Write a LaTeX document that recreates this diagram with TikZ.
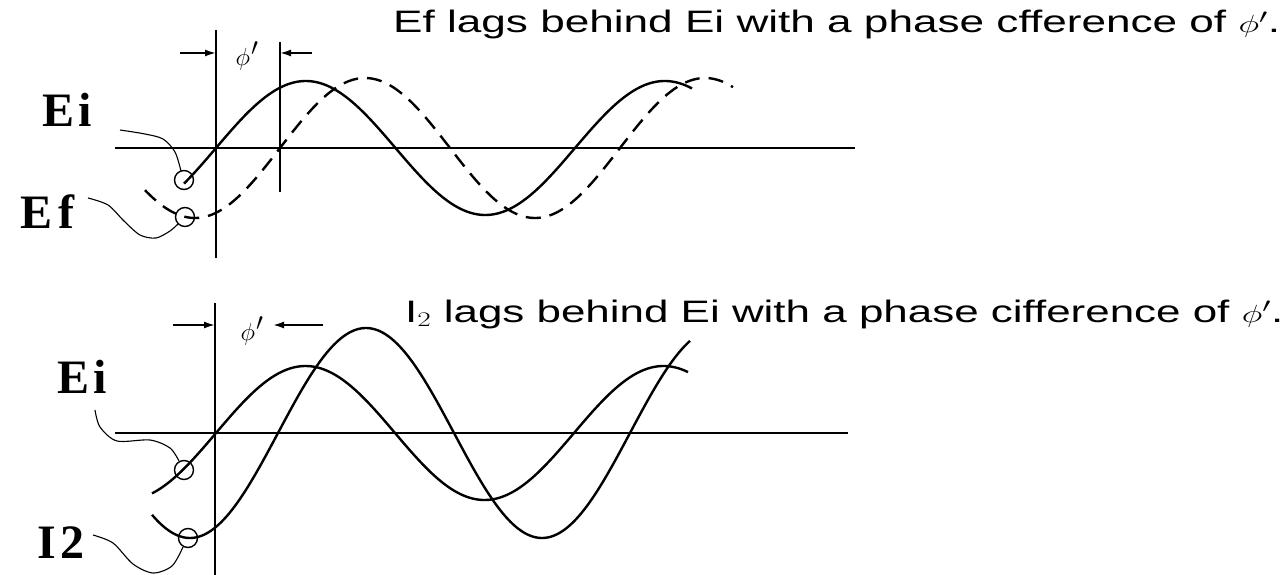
\documentclass[tikz,border=0pt]{standalone}
\usepackage{fontspec}
\usepackage{graphicx}
\setmainfont{Liberation Serif}
\newfontfamily\capsans{Liberation Sans}
\usetikzlibrary{arrows.meta}
\begin{document}
\begin{tikzpicture}[x=1pt,y=-1pt,
  axis/.style={line width=2.6pt},
  wave/.style={line width=2.4pt},
  lead/.style={line width=1.1pt},
  dim/.style={line width=1.8pt,-{Latex[length=11pt,width=7pt]}},
  ring/.style={draw,circle,line width=1.4pt,minimum size=19pt,inner sep=0pt},
  lbl/.style={anchor=base west,inner sep=0pt,font=\fontsize{48}{50}\selectfont\bfseries},
  phil/.style={inner sep=0pt,font=\fontsize{34}{36}\selectfont},
  sent/.style={anchor=base west,inner sep=0pt}]
\useasboundingbox (0,0) rectangle (1288,575);

% ---------- top panel ----------
\draw[axis] (115,148) -- (855,148);
\draw[axis] (216,30) -- (216,258);
\draw[line width=1.6pt] (280,42) -- (280,192);
\draw[wave] plot[domain=184:692,samples=220] (\x,{148-67*sin((\x-216)/359*360)});
\draw[wave,dash pattern=on 15pt off 9pt] plot[domain=145:733,samples=220] (\x,{148-70*sin((\x-280)/340*360)});
\node[ring] (c1) at (184,180) {};
\node[ring] (c2) at (185,217) {};
\coordinate (d1a) at (180,53);
\coordinate (d1b) at (216,53);
\coordinate (d2a) at (312,53);
\coordinate (d2b) at (280,53);
\draw[dim] (d1a) -- (d1b);
\draw[dim] (d2a) -- (d2b);
\node[phil] (p1) at (247,56) {$\phi\kern1pt'$};
\node[lbl] (ei1) at (42,127) {E\kern4pt i};
\node[lbl] (ef1) at (20,228) {E\kern6pt f};
\draw[lead] plot[smooth] coordinates {(120,130) (145,134) (163,139) (175,152) (181,171)};
\draw[lead] plot[smooth] coordinates {(88,198) (108,205) (124,221) (140,235) (156,238) (170,231) (178,224)};
\node[sent] (s1) at (393,33) {\resizebox{887pt}{\height}{\capsans\fontsize{31}{34}\selectfont Ef lags behind Ei with a phase cfference of $\phi'$.}};

% ---------- bottom panel ----------
\draw[axis] (115,433) -- (848,433);
\draw[axis] (215,303) -- (215,575);
\draw[wave] plot[domain=152:688,samples=220] (\x,{433-67*sin((\x-216)/358*360)});
\draw[wave] plot[domain=152:690,samples=220] (\x,{433-105*sin((\x-278)/352*360)});
\node[ring] (c3) at (184,470) {};
\node[ring] (c4) at (188,538) {};
\coordinate (d3a) at (173,325);
\coordinate (d3b) at (215,325);
\coordinate (d4a) at (323,325);
\coordinate (d4b) at (273,325);
\draw[dim] (d3a) -- (d3b);
\draw[dim] (d4a) -- (d4b);
\node[phil] (p2) at (252,331) {$\phi\kern1pt'$};
\node[lbl] (ei2) at (57,393) {E\kern4pt i};
\node[lbl] (i2) at (37,558) {I\kern5pt 2};
\draw[lead] plot[smooth] coordinates {(95,410) (100,427) (117,441) (150,440) (170,448) (179,461)};
\draw[lead] plot[smooth] coordinates {(93,535) (113,543) (133,564) (153,573) (172,566) (183,547)};
\node[sent] (s2) at (405,322) {\resizebox{878pt}{\height}{\capsans\fontsize{31}{34}\selectfont I$_2$ lags behind Ei with a phase cifference of $\phi'$.}};
\end{tikzpicture}
\end{document}
